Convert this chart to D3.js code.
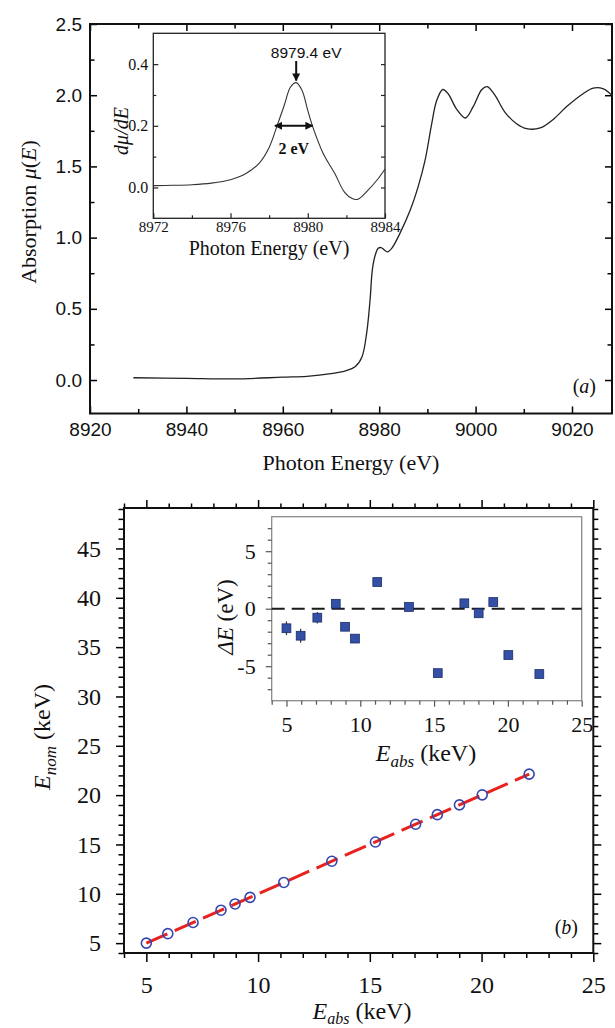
<!DOCTYPE html>
<html>
<head>
<meta charset="utf-8">
<script src="https://cdn.jsdelivr.net/npm/d3@7/dist/d3.min.js"></script>
<style>
  body { margin: 0; background: #fff; }
  svg { display: block; }
</style>
</head>
<body>
<svg id="chart" width="615" height="1028"></svg>
<script>
// panel (a): absorption edge
var energy = [8929, 8940, 8950, 8960, 8965, 8970, 8973, 8975, 8976.4, 8977.4, 8978.1, 8978.6, 8979.2, 8979.8,
              8980.4, 8981.0, 8981.7, 8982.6, 8984.3, 8986.4, 8988.1, 8989.5, 8990.9, 8991.9, 8993.2, 8994.3,
              8996.1, 8997.9, 8999.5, 9001.3, 9002.4, 9004, 9006.1, 9008.5, 9010.6, 9013.4, 9016.1, 9018.9,
              9022.3, 9024.4, 9026.5, 9028.3];
var mu = [0.016, 0.012, 0.008, 0.02, 0.026, 0.045, 0.065, 0.093, 0.16, 0.33, 0.56, 0.78, 0.88, 0.925,
          0.93, 0.915, 0.9, 0.925, 1.03, 1.19, 1.36, 1.54, 1.80, 1.96, 2.04, 2.01,
          1.90, 1.84, 1.92, 2.04, 2.06, 2.0, 1.88, 1.80, 1.765, 1.77, 1.83, 1.92,
          2.01, 2.05, 2.045, 2.0];

// inset (a): derivative
var dEnergy = [8972, 8973, 8974, 8975, 8976, 8976.8, 8977.5, 8978, 8978.4, 8978.8, 8979.1, 8979.4, 8979.7,
               8980.0, 8980.25, 8980.8, 8981.4, 8981.9, 8982.3, 8982.6, 8983.1, 8983.6, 8984];
var dmu = [0.006, 0.007, 0.009, 0.014, 0.025, 0.045, 0.08, 0.13, 0.198, 0.27, 0.325, 0.34, 0.315,
           0.25, 0.198, 0.11, 0.045, -0.015, -0.036, -0.038, -0.01, 0.025, 0.06];
var peakE = 8979.4;
var fwhmEdges = [8978.3, 8980.25];
var fwhmLevel = 0.2;

// panel (b): calibration
var eAbs = [5.0, 5.96, 7.09, 8.34, 8.97, 9.64, 11.15, 13.3, 15.25, 17.05, 18.02, 19.01, 20.03, 22.13];
var eNom = [5.0, 5.96, 7.09, 8.34, 8.97, 9.64, 11.15, 13.3, 15.25, 17.05, 18.02, 19.01, 20.03, 22.13];
var fitX = [5.0, 22.13];
var fitY = [5.0, 22.13];
var deltaE = [-1.7, -2.35, -0.78, 0.43, -1.57, -2.6, 2.32, 0.15, -5.6, 0.47, -0.4, 0.58, -4.03, -5.68];
var deltaErr = [0.6, 0.6, 0.5, 0.2, 0.2, 0.2, 0.2, 0.2, 0.2, 0.2, 0.2, 0.2, 0.2, 0.2];

// ticks
var xTicksA = [8920, 8940, 8960, 8980, 9000, 9020];
var xMinorA = [8930, 8950, 8970, 8990, 9010];
var yTicksA = [0, 0.5, 1.0, 1.5, 2.0, 2.5];
var yMinorA = [0.25, 0.75, 1.25, 1.75, 2.25];
var xTicksIa = [8972, 8976, 8980, 8984];
var xMinorIa = [8974, 8978, 8982];
var yTicksIa = [0, 0.2, 0.4];
var yMinorIa = [0.1, 0.3];
var xTicksB = [5, 10, 15, 20, 25];
var xMinorB = [4, 6, 7, 8, 9, 11, 12, 13, 14, 16, 17, 18, 19, 21, 22, 23, 24];
var yTicksB = [5, 10, 15, 20, 25, 30, 35, 40, 45];
var yMinorB = [4, 6, 7, 8, 9, 11, 12, 13, 14, 16, 17, 18, 19, 21, 22, 23, 24, 26, 27, 28, 29,
               31, 32, 33, 34, 36, 37, 38, 39, 41, 42, 43, 44, 46, 47, 48, 49];
var yTicksIb = [-5, 0, 5];
var yMinorIb = [-7, -6, -4, -3, -2, -1, 1, 2, 3, 4, 6, 7];

var SERIF = '"Liberation Serif", "Times New Roman", serif';
var SANS = '"Liberation Sans", Arial, sans-serif';

var svg = d3.select('#chart');

function addAxis(orient, scale, values, size, pad, fmt, tx, ty, font, fsize, color, sw) {
  var make = {left: d3.axisLeft, right: d3.axisRight, top: d3.axisTop, bottom: d3.axisBottom}[orient];
  var ax = make(scale).tickValues(values).tickSize(size).tickPadding(pad)
      .tickFormat(fmt || function() { return ''; });
  var g = svg.append('g')
      .attr('transform', 'translate(' + tx + ',' + ty + ')')
      .call(ax);
  g.select('.domain').remove();
  g.attr('font-family', font || SERIF).attr('font-size', fsize || 12).attr('color', color || '#000');
  g.selectAll('line').attr('stroke-width', sw || 1.5);
  g.selectAll('text').attr('fill', '#111');
  return g;
}
function str(d) { return String(d); }

// ---------- panel (a) ----------
var xA = d3.scaleLinear().domain([8920, 9028.3]).range([90, 612]);
var yA = d3.scaleLinear().domain([-0.235, 2.5]).range([413.5, 24]);

addAxis('bottom', xA, xTicksA, -7, 9, str, 0, 413.5, SANS, 19);
addAxis('bottom', xA, xMinorA, -4.5, 9, null, 0, 413.5);
addAxis('top', xA, xTicksA, -7, 5, null, 0, 24);
addAxis('top', xA, xMinorA, -4.5, 5, null, 0, 24);
addAxis('left', yA, yTicksA, -7, 8, d3.format('.1f'), 90, 0, SANS, 19);
addAxis('left', yA, yMinorA, -4.5, 8, null, 90, 0);
addAxis('right', yA, yTicksA, -7, 5, null, 612, 0);
addAxis('right', yA, yMinorA, -4.5, 5, null, 612, 0);

svg.append('rect')
    .attr('x', 90).attr('y', 24).attr('width', 612 - 90).attr('height', 413.5 - 24)
    .attr('fill', 'none').attr('stroke', '#111').attr('stroke-width', 2);

var lineA = d3.line()
    .x(function(d) { return xA(d[0]); })
    .y(function(d) { return yA(d[1]); })
    .curve(d3.curveCatmullRom.alpha(0.5));

svg.append('path')
    .datum(d3.zip(energy, mu))
    .attr('d', lineA)
    .attr('fill', 'none').attr('stroke', '#222').attr('stroke-width', 1.3);

svg.append('text')
    .attr('transform', 'translate(36,212) rotate(-90)')
    .attr('text-anchor', 'middle').attr('font-family', SERIF).attr('font-size', 22).attr('fill', '#111')
    .call(function(t) {
      t.append('tspan').text('Absorption ');
      t.append('tspan').attr('font-style', 'italic').text('μ');
      t.append('tspan').text('(');
      t.append('tspan').attr('font-style', 'italic').text('E');
      t.append('tspan').text(')');
    });

svg.append('text')
    .attr('x', 351).attr('y', 470)
    .attr('text-anchor', 'middle').attr('font-family', SERIF).attr('font-size', 22).attr('fill', '#111')
    .text('Photon Energy (eV)');

svg.append('text')
    .attr('x', 596).attr('y', 393)
    .attr('text-anchor', 'end').attr('font-family', SERIF).attr('font-size', 20).attr('fill', '#111')
    .call(function(t) {
      t.append('tspan').text('(');
      t.append('tspan').attr('font-style', 'italic').text('a');
      t.append('tspan').text(')');
    });

// ---------- inset (a) ----------
var xIa = d3.scaleLinear().domain([8972, 8984]).range([153.3, 385]);
var yIa = d3.scaleLinear().domain([-0.1, 0.5]).range([218.3, 33.3]);

svg.append('rect')
    .attr('x', 153.3).attr('y', 33.3).attr('width', 385 - 153.3).attr('height', 218.3 - 33.3)
    .attr('fill', '#fff');

addAxis('bottom', xIa, xTicksIa, -5, 3, str, 0, 218.3, SERIF, 15, '#222', 1.2);
addAxis('bottom', xIa, xMinorIa, -3, 3, null, 0, 218.3, SERIF, 15, '#222', 1.2);
addAxis('left', yIa, yTicksIa, -5, 5, d3.format('.1f'), 153.3, 0, SERIF, 16, '#222', 1.2);
addAxis('left', yIa, yMinorIa, -3, 5, null, 153.3, 0, SERIF, 16, '#222', 1.2);
addAxis('right', yIa, yTicksIa.concat(yMinorIa), -4, 5, null, 385, 0, SERIF, 16, '#222', 1.2);

svg.append('rect')
    .attr('x', 153.3).attr('y', 33.3).attr('width', 385 - 153.3).attr('height', 218.3 - 33.3)
    .attr('fill', 'none').attr('stroke', '#222').attr('stroke-width', 1.3);

svg.append('path')
    .datum(d3.zip(dEnergy, dmu))
    .attr('d', d3.line()
        .x(function(d) { return xIa(d[0]); })
        .y(function(d) { return yIa(d[1]); })
        .curve(d3.curveCatmullRom.alpha(0.5)))
    .attr('fill', 'none').attr('stroke', '#333').attr('stroke-width', 1.1);

var defs = svg.append('defs');
defs.append('marker')
    .attr('id', 'ah').attr('viewBox', '0 0 10 10').attr('refX', 9).attr('refY', 5)
    .attr('markerWidth', 4).attr('markerHeight', 4).attr('orient', 'auto-start-reverse')
    .append('path').attr('d', 'M0,0 L10,5 L0,10 z').attr('fill', '#111');

var pk = dmu[dEnergy.indexOf(peakE)];
svg.append('line')
    .attr('x1', xIa(peakE)).attr('x2', xIa(peakE))
    .attr('y1', 61).attr('y2', yIa(pk) - 2)
    .attr('stroke', '#111').attr('stroke-width', 2).attr('marker-end', 'url(#ah)');

svg.append('text')
    .attr('x', xIa(peakE) + 10).attr('y', 58)
    .attr('text-anchor', 'middle').attr('font-family', SANS).attr('font-size', 15.5).attr('fill', '#111')
    .text(peakE.toFixed(1) + ' eV');

svg.append('line')
    .attr('x1', xIa(fwhmEdges[0])).attr('x2', xIa(fwhmEdges[1]))
    .attr('y1', yIa(fwhmLevel)).attr('y2', yIa(fwhmLevel))
    .attr('stroke', '#111').attr('stroke-width', 2)
    .attr('marker-start', 'url(#ah)').attr('marker-end', 'url(#ah)');

svg.append('text')
    .attr('x', (xIa(fwhmEdges[0]) + xIa(fwhmEdges[1])) / 2).attr('y', yIa(fwhmLevel) + 28)
    .attr('text-anchor', 'middle').attr('font-family', SERIF).attr('font-size', 16)
    .attr('font-weight', 'bold').attr('fill', '#111')
    .text('2 eV');

svg.append('text')
    .attr('transform', 'translate(128,131) rotate(-90)')
    .attr('text-anchor', 'middle').attr('font-family', SERIF).attr('font-size', 20)
    .attr('font-style', 'italic').attr('fill', '#111')
    .text('dμ/dE');

svg.append('text')
    .attr('x', 269).attr('y', 255)
    .attr('text-anchor', 'middle').attr('font-family', SERIF).attr('font-size', 20).attr('fill', '#111')
    .text('Photon Energy (eV)');

// ---------- panel (b) ----------
var xB = d3.scaleLinear().domain([4, 25]).range([124, 593.3]);
var yB = d3.scaleLinear().domain([4, 49.1]).range([953, 508]);

addAxis('bottom', xB, xTicksB, 9, 14, str, 0, 953, SERIF, 24);
addAxis('bottom', xB, xMinorB, 5, 14, null, 0, 953);
addAxis('top', xB, xTicksB, 8, 5, null, 0, 508);
addAxis('top', xB, xMinorB, 4.5, 5, null, 0, 508);
addAxis('left', yB, yTicksB, 8, 15, str, 124, 0, SERIF, 24);
addAxis('left', yB, yMinorB, 5.5, 15, null, 124, 0);
addAxis('right', yB, yTicksB, 8, 5, null, 593.3, 0);
addAxis('right', yB, yMinorB, 5, 5, null, 593.3, 0);

svg.append('rect')
    .attr('x', 124).attr('y', 508).attr('width', 593.3 - 124).attr('height', 953 - 508)
    .attr('fill', 'none').attr('stroke', '#111').attr('stroke-width', 2);

svg.append('path')
    .datum(d3.zip(fitX, fitY))
    .attr('d', d3.line()
        .x(function(d) { return xB(d[0]); })
        .y(function(d) { return yB(d[1]); }))
    .attr('fill', 'none').attr('stroke', '#e8231f').attr('stroke-width', 3)
    .attr('stroke-dasharray', '23,8');

svg.selectAll('circle.pt')
    .data(d3.zip(eAbs, eNom))
  .enter().append('circle')
    .attr('class', 'pt')
    .attr('cx', function(d) { return xB(d[0]); })
    .attr('cy', function(d) { return yB(d[1]); })
    .attr('r', 5)
    .attr('fill', 'none').attr('stroke', '#3546b0').attr('stroke-width', 1.6);

svg.append('text')
    .attr('x', 362).attr('y', 1019)
    .attr('text-anchor', 'middle').attr('font-family', SERIF).attr('font-size', 24).attr('fill', '#111')
    .call(function(t) {
      t.append('tspan').attr('font-style', 'italic').text('E');
      t.append('tspan').attr('font-style', 'italic').attr('font-size', 16).attr('dy', 5).text('abs');
      t.append('tspan').attr('dy', -5).text(' (keV)');
    });

svg.append('text')
    .attr('transform', 'translate(50,737) rotate(-90)')
    .attr('text-anchor', 'middle').attr('font-family', SERIF).attr('font-size', 24).attr('fill', '#111')
    .call(function(t) {
      t.append('tspan').attr('font-style', 'italic').text('E');
      t.append('tspan').attr('font-style', 'italic').attr('font-size', 17).attr('dy', 6).text('nom');
      t.append('tspan').attr('dy', -6).text(' (keV)');
    });

svg.append('text')
    .attr('x', 578).attr('y', 934)
    .attr('text-anchor', 'end').attr('font-family', SERIF).attr('font-size', 20).attr('fill', '#111')
    .call(function(t) {
      t.append('tspan').text('(');
      t.append('tspan').attr('font-style', 'italic').text('b');
      t.append('tspan').text(')');
    });

// ---------- inset (b) ----------
var xIb = d3.scaleLinear().domain([4, 25]).range([271.7, 581.7]);
var yIb = d3.scaleLinear().domain([-8, 8]).range([700.7, 516.7]);

svg.append('rect')
    .attr('x', 271.7).attr('y', 516.7).attr('width', 581.7 - 271.7).attr('height', 700.7 - 516.7)
    .attr('fill', '#fff').attr('stroke', '#8a8a8a').attr('stroke-width', 1.3);

addAxis('bottom', xIb, xTicksB, 6, 10, str, 0, 700.7, SERIF, 22, '#555', 1.2);
addAxis('bottom', xIb, xMinorB, 4, 10, null, 0, 700.7, SERIF, 22, '#555', 1.2);
addAxis('left', yIb, yTicksIb, 6, 10, str, 271.7, 0, SERIF, 22, '#555', 1.2);
addAxis('left', yIb, yMinorIb, 4, 10, null, 271.7, 0, SERIF, 22, '#555', 1.2);

svg.append('line')
    .attr('x1', xIb(4)).attr('x2', xIb(25))
    .attr('y1', yIb(0)).attr('y2', yIb(0))
    .attr('stroke', '#1a1a1a').attr('stroke-width', 2).attr('stroke-dasharray', '13,7');

var pts = svg.selectAll('g.dev')
    .data(d3.zip(eAbs, deltaE, deltaErr))
  .enter().append('g')
    .attr('class', 'dev');

pts.append('line')
    .attr('x1', function(d) { return xIb(d[0]); })
    .attr('x2', function(d) { return xIb(d[0]); })
    .attr('y1', function(d) { return yIb(d[1] - d[2]); })
    .attr('y2', function(d) { return yIb(d[1] + d[2]); })
    .attr('stroke', '#333').attr('stroke-width', 1.2);

pts.append('rect')
    .attr('x', function(d) { return xIb(d[0]) - 4.4; })
    .attr('y', function(d) { return yIb(d[1]) - 4.4; })
    .attr('width', 8.8).attr('height', 8.8)
    .attr('fill', '#3450a6').attr('stroke', '#1c2b66').attr('stroke-width', 0.8);

svg.append('text')
    .attr('transform', 'translate(233,617) rotate(-90)')
    .attr('text-anchor', 'middle').attr('font-family', SERIF).attr('font-size', 23).attr('fill', '#111')
    .call(function(t) {
      t.append('tspan').attr('font-style', 'italic').text('ΔE');
      t.append('tspan').text(' (eV)');
    });

svg.append('text')
    .attr('x', 426).attr('y', 761)
    .attr('text-anchor', 'middle').attr('font-family', SERIF).attr('font-size', 24).attr('fill', '#111')
    .call(function(t) {
      t.append('tspan').attr('font-style', 'italic').text('E');
      t.append('tspan').attr('font-style', 'italic').attr('font-size', 17).attr('dy', 6).text('abs');
      t.append('tspan').attr('dy', -6).text(' (keV)');
    });
</script>
</body>
</html>
